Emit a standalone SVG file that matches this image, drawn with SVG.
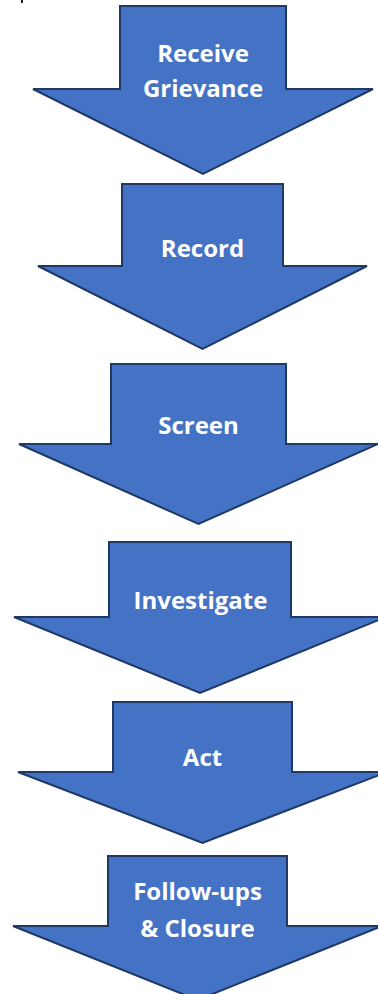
<svg xmlns="http://www.w3.org/2000/svg" width="378" height="994" viewBox="0 0 378 994">
<style>
.arrow{fill:#4472c4;stroke:#1f3864;stroke-width:2;stroke-linejoin:miter}
.lbl{font-family:"Open Sans","Liberation Sans",sans-serif;font-weight:bold;font-size:24px;fill:#ffffff;text-anchor:middle}
</style>
<rect width="378" height="994" fill="#ffffff"/>
<rect x="21" y="0" width="2" height="3" fill="#222222"/>
<g id="connectors"></g>
<g id="n1">
<polygon class="arrow" points="120,6 286,6 286,89 373,89 203,174 33,89 120,89"/>
<text class="lbl" x="203" y="62">Receive</text>
<text class="lbl" x="203" y="97">Grievance</text>
</g>
<g id="n2">
<polygon class="arrow" points="122,184 283,184 283,266 367,266 202.5,349 38,266 122,266"/>
<text class="lbl" x="202.5" y="257">Record</text>
</g>
<g id="n3">
<polygon class="arrow" points="111,364 286,364 286,444 378,444 198.5,524 19,444 111,444"/>
<text class="lbl" x="198.5" y="434">Screen</text>
</g>
<g id="n4">
<polygon class="arrow" points="109,542 291,542 291,617 386,617 200,693 14,617 109,617"/>
<text class="lbl" x="200.5" y="609">Investigate</text>
</g>
<g id="n5">
<polygon class="arrow" points="113,702 292,702 292,772 387,772 202.5,843 18,772 113,772"/>
<text class="lbl" x="202.5" y="766">Act</text>
</g>
<g id="n6">
<polygon class="arrow" points="108,856 287,856 287,926 382,926 197.5,1000 13,926 108,926"/>
<text class="lbl" x="197.5" y="900">Follow-ups</text>
<text class="lbl" x="197.5" y="937">&amp; Closure</text>
</g>
</svg>
